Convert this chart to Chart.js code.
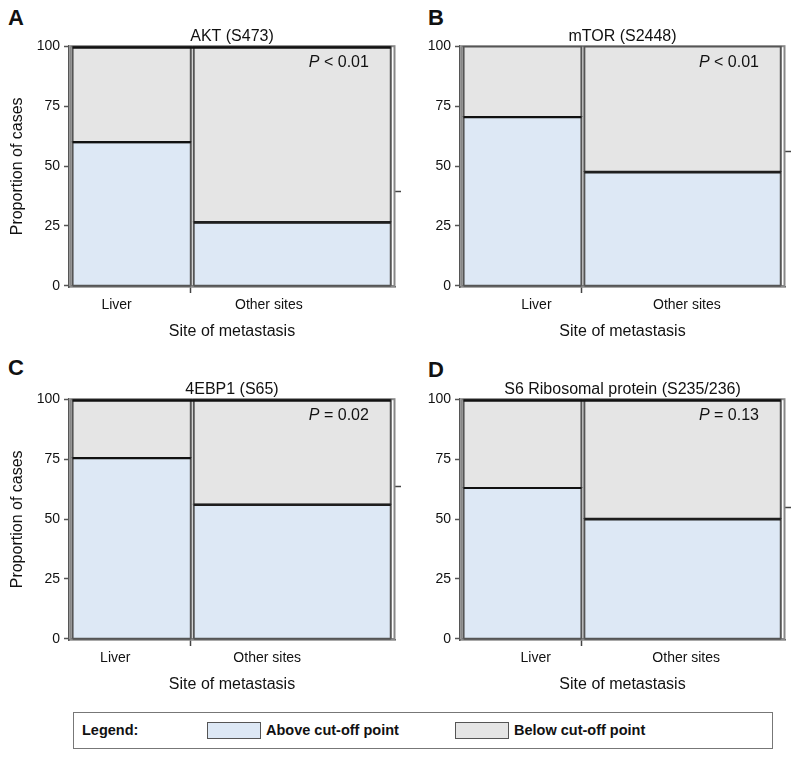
<!DOCTYPE html>
<html><head><meta charset="utf-8">
<script src="https://cdn.jsdelivr.net/npm/chart.js@4.4.1/dist/chart.umd.min.js"></script>
<style>
html,body{margin:0;padding:0;background:#fff;}
body{width:800px;height:762px;position:relative;overflow:hidden;font-family:"Liberation Sans",Arial,sans-serif;color:#111;}
canvas{position:absolute;}
.letter{position:absolute;font-weight:bold;font-size:22px;line-height:22px;color:#111;}
#legend{position:absolute;left:73px;top:712px;width:700px;height:37px;border:1.5px solid #777;box-sizing:border-box;font-weight:bold;font-size:14.5px;color:#111;}
#legend span{position:absolute;top:9px;line-height:17px;}
#legend .sw{position:absolute;top:9px;width:54px;height:17px;border:1.3px solid #555;box-sizing:border-box;}
</style></head>
<body>
<div class="letter" style="left:8px;top:6.5px">A</div>
<div class="letter" style="left:428px;top:6.5px">B</div>
<div class="letter" style="left:8px;top:357px">C</div>
<div class="letter" style="left:428px;top:359px">D</div>
<canvas id="c0" width="410" height="350" style="left:0;top:0"></canvas>
<canvas id="c1" width="400" height="350" style="left:400px;top:0"></canvas>
<canvas id="c2" width="410" height="350" style="left:0;top:353px"></canvas>
<canvas id="c3" width="400" height="350" style="left:400px;top:353px"></canvas>
<div id="legend">
  <span style="left:8px">Legend:</span>
  <div class="sw" id="sw0" style="left:133px"></div>
  <span id="lt0" style="left:192px"></span>
  <div class="sw" id="sw1" style="left:381px"></div>
  <span id="lt1" style="left:440px"></span>
</div>
<script>
// ---- data ----
const panelTitles = ['AKT (S473)', 'mTOR (S2448)', '4EBP1 (S65)', 'S6 Ribosomal protein (S235/236)'];
const categories = ['Liver', 'Other sites'];
const liverShare = 37.5;                     // % of cases with liver metastasis (bar width)
const aboveLiver = [60, 70.5, 75.5, 63];     // % above cut-off, liver
const aboveOther = [26.5, 47.5, 56, 50];     // % above cut-off, other sites
const overallAbove = [39.5, 56, 63.5, 55];   // marginal mark on right axis
const pValues = ['< 0.01', '< 0.01', '= 0.02', '= 0.13'];
const yTickValues = [0, 25, 50, 75, 100];
const seriesLabels = ['Above cut-off point', 'Below cut-off point'];
const xTitle = 'Site of metastasis';
const yTitle = 'Proportion of cases';

// ---- style ----
const F = '"Liberation Sans", Arial, sans-serif';
const BLUE = 'rgb(221,232,245)';
const GRAY = 'rgb(229,229,229)';
const EDGE = '#555';
const PAD_L = 1.1, PAD_R = 1.3, GAP = 0.9;
const topDark = [true, false, true, true];
const layouts = [
  {left: true,  labelPos: [14.6, 61.3]},
  {left: false, labelPos: [23.5, 69.8]},
  {left: true,  labelPos: [14.2, 60.8]},
  {left: false, labelPos: [23.3, 69.6]}
];

document.getElementById('sw0').style.background = BLUE;
document.getElementById('sw1').style.background = GRAY;
document.getElementById('lt0').textContent = seriesLabels[0];
document.getElementById('lt1').textContent = seriesLabels[1];

const framePlugin = {
  id: 'frame',
  beforeDatasetsDraw(chart) {
    const {ctx, chartArea: a} = chart;
    ctx.save();
    ctx.strokeStyle = '#888';
    ctx.lineWidth = 2;
    ctx.strokeRect(a.left + 1.5, a.top + 0.5, a.right - a.left - 2, a.bottom - a.top - 1.5);
    ctx.restore();
  }
};

function makePanel(i) {
  const lay = layouts[i];
  const usable = 100 - PAD_L - PAD_R - GAP;
  const lx0 = PAD_L, lx1 = PAD_L + usable * liverShare / 100;
  const ox0 = lx1 + GAP, ox1 = 100 - PAD_R;
  const L = aboveLiver[i], O = aboveOther[i];
  const rect = (x0, x1, b, t, color) => ({
    data: [{x: x0, y: b}, {x: x0, y: t}, {x: x1, y: t}, {x: x1, y: b}],
    fill: {value: b}, backgroundColor: color, borderColor: EDGE, borderWidth: 2,
    pointRadius: 0, tension: 0, order: 2
  });
  const edge = (x0, x1, y, color, w, ord) => ({
    data: [{x: x0, y: y}, {x: x1, y: y}], fill: false, borderColor: color, borderWidth: w,
    pointRadius: 0, tension: 0, order: ord
  });
  const datasets = [
    rect(lx0, lx1, 0, L, BLUE), rect(lx0, lx1, L, 100, GRAY),
    rect(ox0, ox1, 0, O, BLUE), rect(ox0, ox1, O, 100, GRAY),
    edge(lx0, lx1, 0, EDGE, 2, 1), edge(ox0, ox1, 0, EDGE, 2, 1),
    edge(lx0, lx1, L, '#111', 2.2, 0), edge(ox0, ox1, O, '#1e1e1e', 2.6, 0)
  ];
  if (topDark[i]) datasets.push(edge(lx0, ox1, 99.6, '#111', 2.5, 0));

  const pPlugin = {
    id: 'pval',
    afterDatasetsDraw(chart) {
      const {ctx} = chart;
      const x = chart.scales.x.getPixelForValue(92);
      const y = chart.scales.y.getPixelForValue(91.5);
      ctx.save();
      ctx.fillStyle = '#111';
      ctx.textBaseline = 'alphabetic';
      ctx.textAlign = 'left';
      ctx.font = '16px ' + F;
      const rest = ' ' + pValues[i];
      const w2 = ctx.measureText(rest).width;
      ctx.font = 'italic 16px ' + F;
      const w1 = ctx.measureText('P').width;
      ctx.fillText('P', x - w2 - w1, y);
      ctx.font = '16px ' + F;
      ctx.fillText(rest, x - w2, y);
      ctx.restore();
    }
  };

  const yWidth = lay.left ? 69 : 60;
  new Chart(document.getElementById('c' + i), {
    type: 'line',
    data: {datasets},
    plugins: [framePlugin, pPlugin],
    options: {
      responsive: false, animation: false, devicePixelRatio: 1,
      layout: {padding: {left: 0, right: 8, top: 26.5, bottom: 8}},
      plugins: {
        legend: {display: false}, tooltip: {enabled: false},
        title: {display: true, text: panelTitles[i], fullSize: false,
          font: {size: 16, family: F, weight: 'normal'}, color: '#111',
          padding: {top: 0, bottom: 0}}
      },
      scales: {
        x: {
          type: 'linear', min: 0, max: 100,
          afterBuildTicks: s => { s.ticks = [{value: lay.labelPos[0]}, {value: lx1}, {value: lay.labelPos[1]}]; },
          ticks: {callback: (v, idx) => [categories[0], '', categories[1]][idx],
            font: {size: 14, family: F}, color: '#111', padding: 4, maxRotation: 0, autoSkip: false},
          grid: {drawOnChartArea: false, drawTicks: true, tickLength: 6,
            tickColor: ctx => ctx.index === 1 ? '#444' : 'rgba(0,0,0,0)', tickWidth: 1.5},
          border: {display: true, color: EDGE, width: 1.5},
          title: {display: true, text: xTitle, font: {size: 16, family: F}, color: '#111',
            padding: {top: 0, bottom: 0.5}},
          afterFit: s => { s.height = 55; }
        },
        y: {
          type: 'linear', position: 'left', min: -0.5, max: 100.3,
          afterBuildTicks: s => { s.ticks = yTickValues.map(v => ({value: v})); },
          ticks: {font: {size: 14, family: F}, color: '#111', padding: 4},
          grid: {drawOnChartArea: false, tickLength: 5, tickColor: EDGE, tickWidth: 1.5},
          border: {display: true, color: EDGE, width: 1.5},
          title: {display: lay.left, text: yTitle, font: {size: 16, family: F}, color: '#111',
            padding: {top: 8.4, bottom: 0}},
          afterFit: s => { s.width = yWidth; }
        },
        y2: {
          type: 'linear', position: 'right', min: -0.5, max: 100.3,
          afterBuildTicks: s => { s.ticks = [{value: overallAbove[i]}]; },
          ticks: {display: false},
          grid: {drawOnChartArea: false, tickLength: 6, tickColor: '#444', tickWidth: 1.5},
          border: {display: false},
          afterFit: s => { s.width = 7; }
        }
      }
    }
  });
}
for (let i = 0; i < 4; i++) makePanel(i);
</script>
</body></html>
